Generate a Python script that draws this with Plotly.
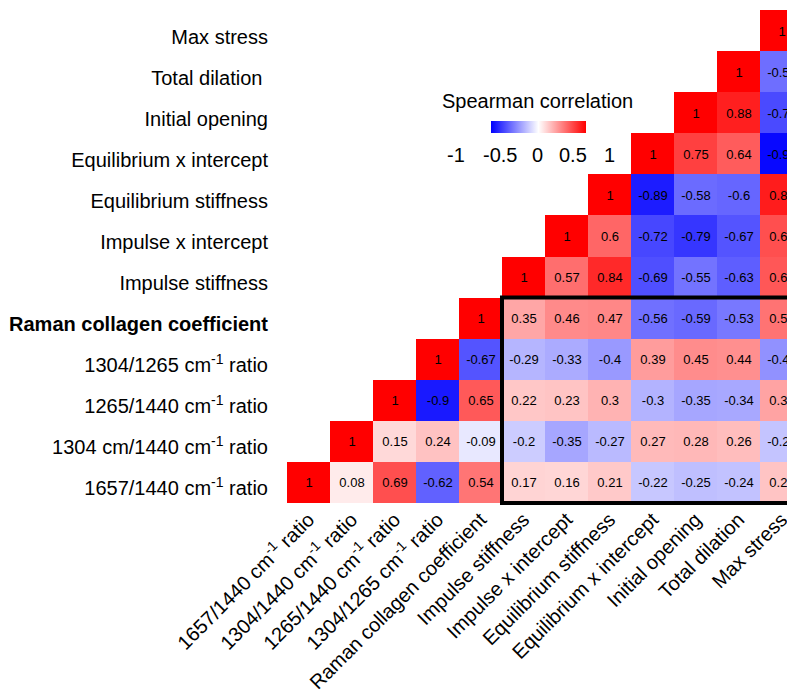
import numpy as np
import plotly.graph_objects as go

# Variables (bottom-to-top on y, left-to-right on x)
y_labels = [
    "1657/1440 cm<sup>-1</sup> ratio",
    "1304 cm/1440 cm<sup>-1</sup> ratio",
    "1265/1440 cm<sup>-1</sup> ratio",
    "1304/1265 cm<sup>-1</sup> ratio",
    "<b>Raman collagen coefficient</b>",
    "Impulse stiffness",
    "Impulse x intercept",
    "Equilibrium stiffness",
    "Equilibrium x intercept",
    "Initial opening",
    "Total dilation ",
    "Max stress",
]
x_labels = [
    "1657/1440 cm<sup>-1</sup> ratio",
    "1304/1440 cm<sup>-1</sup> ratio",
    "1265/1440 cm<sup>-1</sup> ratio",
    "1304/1265 cm<sup>-1</sup> ratio",
    "Raman collagen coefficient",
    "Impulse stiffness",
    "Impulse x intercept",
    "Equilibrium stiffness",
    "Equilibrium x intercept",
    "Initial opening",
    "Total dilation",
    "Max stress",
]

# Upper-triangle Spearman correlations; each row starts at its diagonal
row_1657 = [1, 0.08, 0.69, -0.62, 0.54, 0.17, 0.16, 0.21, -0.22, -0.25, -0.24, 0.23]
row_1304_1440 = [1, 0.15, 0.24, -0.09, -0.2, -0.35, -0.27, 0.27, 0.28, 0.26, -0.23]
row_1265_1440 = [1, -0.9, 0.65, 0.22, 0.23, 0.3, -0.3, -0.35, -0.34, 0.36]
row_1304_1265 = [1, -0.67, -0.29, -0.33, -0.4, 0.39, 0.45, 0.44, -0.43]
row_raman = [1, 0.35, 0.46, 0.47, -0.56, -0.59, -0.53, 0.55]
row_imp_stiff = [1, 0.57, 0.84, -0.69, -0.55, -0.63, 0.66]
row_imp_x = [1, 0.6, -0.72, -0.79, -0.67, 0.69]
row_eq_stiff = [1, -0.89, -0.58, -0.6, 0.89]
row_eq_x = [1, 0.75, 0.64, -0.97]
row_init_open = [1, 0.88, -0.71]
row_total_dil = [1, -0.57]
row_max_stress = [1]

rows = [row_1657, row_1304_1440, row_1265_1440, row_1304_1265, row_raman,
        row_imp_stiff, row_imp_x, row_eq_stiff, row_eq_x, row_init_open,
        row_total_dil, row_max_stress]

cbar_title = "Spearman correlation"
cbar_labels = ["-1", "-0.5", "0", "0.5", "1"]

n = len(y_labels)
z = np.full((n, n), np.nan)
text = [["" for _ in range(n)] for _ in range(n)]
for r, vals in enumerate(rows):
    for k, v in enumerate(vals):
        c = r + k
        z[r, c] = v
        text[r][c] = f"{v:g}"

# layout geometry (figure pixels; page body adds an 8px offset)
OFF = 8
W, H = 795, 691
L, R, T, B = 287 - OFF, 0, 10 - OFF, H - (503 - OFF)
pw, ph = W - L - R, H - T - B
def px(xs):  # screenshot x -> paper
    return (xs - OFF - L) / pw
def py(ys):  # screenshot y -> paper
    return (H - B - (ys - OFF)) / ph

font_family = "Liberation Sans, Arial, sans-serif"
big = 20

fig = go.Figure(go.Heatmap(
    z=z,
    x=list(range(n)),
    y=list(range(n)),
    text=text,
    texttemplate="%{text}",
    textfont=dict(size=13, color="black", family=font_family),
    zmin=-1, zmax=1,
    colorscale=[[0, "#0000FF"], [0.5, "#FFFFFF"], [1, "#FF0000"]],
    hoverongaps=False,
    colorbar=dict(
        orientation="h",
        len=95, lenmode="pixels",
        thickness=12, thicknessmode="pixels",
        x=px(538), xanchor="center",
        y=py(127), yanchor="middle",
        xpad=0, ypad=0,
        outlinewidth=0,
        showticklabels=False,
        ticks="",
    ),
))

annotations = [dict(text=cbar_title, x=px(537), y=py(101), xref="paper", yref="paper",
                    showarrow=False, xanchor="center", yanchor="middle",
                    font=dict(size=big, color="black", family=font_family))]
for lab, xc in zip(cbar_labels, [456, 500, 537, 573, 609]):
    annotations.append(dict(text=lab, x=px(xc), y=py(155), xref="paper", yref="paper",
                            showarrow=False, xanchor="center", yanchor="middle",
                            font=dict(size=big, color="black", family=font_family)))

fig.update_layout(
    width=W, height=H,
    margin=dict(l=L, r=R, t=T, b=B, autoexpand=False),
    paper_bgcolor="white", plot_bgcolor="white",
    font=dict(family=font_family, size=big, color="black"),
    annotations=annotations,
    shapes=[dict(type="rect", xref="x", yref="paper",
                 x0=4.5, x1=12.5, y0=0, y1=5 / 12,
                 line=dict(color="black", width=4), fillcolor="rgba(0,0,0,0)",
                 layer="above")],
    xaxis=dict(
        tickmode="array", tickvals=list(range(n)), ticktext=x_labels,
        tickangle=-45, range=[-0.5, 11.5],
        showgrid=False, zeroline=False, showline=False,
        ticks="", tickfont=dict(size=big), fixedrange=True, automargin=False,
    ),
    yaxis=dict(
        tickmode="array", tickvals=list(range(n)), ticktext=y_labels,
        range=[-0.5, 11.5],
        showgrid=False, zeroline=False, showline=False,
        ticks="outside", ticklen=14, tickcolor="rgba(0,0,0,0)",
        ticklabelshift=6,
        tickfont=dict(size=big), fixedrange=True, automargin=False,
    ),
)

fig.write_html("out.html")
